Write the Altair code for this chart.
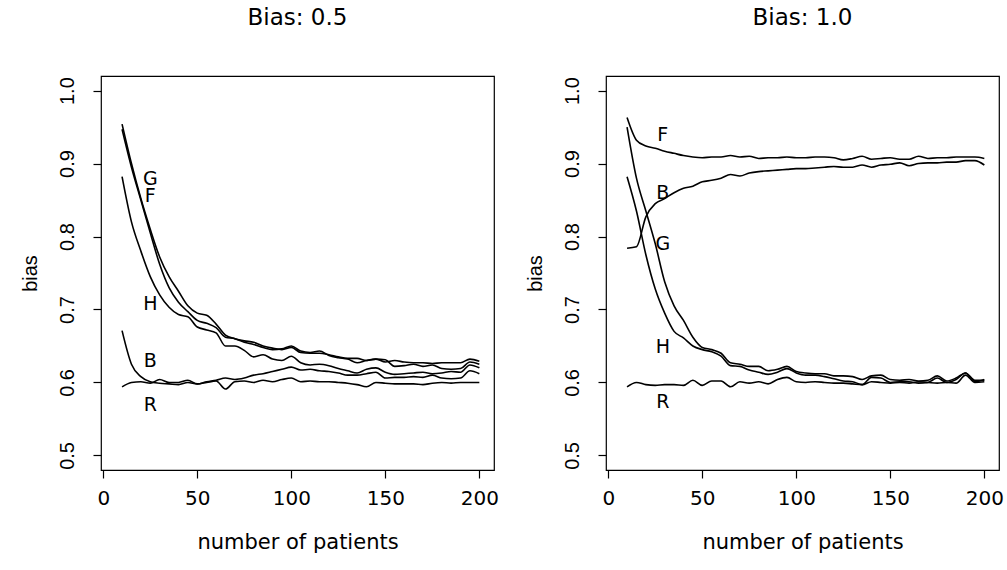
import altair as alt
import pandas as pd

FONT = "Liberation Sans"     # rotated texts
HFONT = "DejaVu Sans"        # horizontal texts (reference text is horizontally wide)

x_vals = [10, 15, 20, 25, 30, 35, 40, 45, 50, 55, 60, 65, 70, 75, 80, 85, 90, 95, 100,
          105, 110, 115, 120, 125, 130, 135, 140, 145, 150, 155, 160, 165, 170, 175, 180,
          185, 190, 195, 200]

# ---- Bias: 0.5 ----
left_G = [0.954, 0.900, 0.852, 0.810, 0.772, 0.745, 0.725, 0.705, 0.695, 0.692, 0.680, 0.665,
          0.660, 0.657, 0.655, 0.650, 0.647, 0.645, 0.648, 0.641, 0.640, 0.640, 0.638, 0.635,
          0.633, 0.633, 0.630, 0.632, 0.628, 0.630, 0.628, 0.627, 0.627, 0.626, 0.627, 0.627,
          0.627, 0.632, 0.629]
left_F = [0.947, 0.895, 0.850, 0.805, 0.762, 0.730, 0.710, 0.697, 0.685, 0.681, 0.675, 0.662,
          0.660, 0.655, 0.652, 0.648, 0.645, 0.646, 0.650, 0.643, 0.641, 0.643, 0.637, 0.634,
          0.632, 0.627, 0.630, 0.632, 0.631, 0.622, 0.623, 0.625, 0.622, 0.624, 0.619, 0.618,
          0.619, 0.628, 0.625]
left_H = [0.882, 0.820, 0.780, 0.745, 0.720, 0.703, 0.693, 0.690, 0.676, 0.672, 0.668, 0.650,
          0.650, 0.644, 0.635, 0.638, 0.632, 0.630, 0.636, 0.627, 0.624, 0.625, 0.623, 0.619,
          0.616, 0.613, 0.618, 0.620, 0.614, 0.611, 0.612, 0.613, 0.614, 0.612, 0.613, 0.615,
          0.614, 0.624, 0.620]
left_B = [0.671, 0.625, 0.608, 0.601, 0.599, 0.598, 0.597, 0.600, 0.598, 0.601, 0.603, 0.606,
          0.604, 0.606, 0.610, 0.612, 0.615, 0.618, 0.621, 0.617, 0.618, 0.616, 0.615, 0.613,
          0.610, 0.610, 0.612, 0.614, 0.606, 0.607, 0.607, 0.608, 0.607, 0.610, 0.606, 0.605,
          0.606, 0.616, 0.612]
left_R = [0.594, 0.600, 0.601, 0.599, 0.604, 0.600, 0.600, 0.603, 0.598, 0.600, 0.602, 0.591,
          0.601, 0.602, 0.600, 0.603, 0.601, 0.604, 0.606, 0.601, 0.602, 0.601, 0.601, 0.600,
          0.599, 0.597, 0.594, 0.600, 0.599, 0.598, 0.598, 0.598, 0.597, 0.599, 0.600, 0.599,
          0.600, 0.600, 0.600]

left_labels = ["G", "F", "H", "B", "R"]
left_label_x = [25, 25, 25, 25, 25]
left_label_y = [0.879, 0.855, 0.707, 0.629, 0.569]

# ---- Bias: 1.0 ----
right_F = [0.963, 0.932, 0.924, 0.921, 0.917, 0.914, 0.911, 0.909, 0.908, 0.909, 0.909, 0.911,
           0.909, 0.910, 0.907, 0.908, 0.908, 0.909, 0.908, 0.908, 0.909, 0.909, 0.908, 0.905,
           0.907, 0.910, 0.906, 0.907, 0.908, 0.906, 0.906, 0.910, 0.907, 0.908, 0.908, 0.909,
           0.909, 0.909, 0.907]
right_B = [0.784, 0.786, 0.827, 0.845, 0.852, 0.860, 0.866, 0.869, 0.875, 0.877, 0.880, 0.885,
           0.883, 0.887, 0.889, 0.890, 0.891, 0.892, 0.893, 0.893, 0.894, 0.895, 0.896, 0.895,
           0.895, 0.898, 0.895, 0.898, 0.899, 0.901, 0.897, 0.900, 0.901, 0.901, 0.902, 0.902,
           0.904, 0.904, 0.898]
right_G = [0.950, 0.880, 0.835, 0.790, 0.738, 0.705, 0.685, 0.662, 0.648, 0.645, 0.640, 0.627,
           0.625, 0.622, 0.622, 0.616, 0.618, 0.622, 0.615, 0.613, 0.612, 0.612, 0.609, 0.609,
           0.608, 0.604, 0.609, 0.610, 0.604, 0.603, 0.604, 0.602, 0.603, 0.609, 0.602, 0.606,
           0.613, 0.603, 0.603]
right_H = [0.882, 0.835, 0.775, 0.728, 0.695, 0.670, 0.661, 0.650, 0.645, 0.642, 0.636, 0.623,
           0.622, 0.617, 0.614, 0.611, 0.614, 0.619, 0.613, 0.610, 0.610, 0.608, 0.605, 0.602,
           0.601, 0.597, 0.607, 0.606, 0.600, 0.601, 0.601, 0.599, 0.600, 0.606, 0.600, 0.604,
           0.613, 0.601, 0.604]
right_R = [0.594, 0.600, 0.597, 0.596, 0.597, 0.597, 0.596, 0.603, 0.596, 0.602, 0.602, 0.594,
           0.601, 0.599, 0.601, 0.598, 0.604, 0.607, 0.601, 0.600, 0.601, 0.600, 0.599, 0.599,
           0.598, 0.597, 0.601, 0.600, 0.599, 0.600, 0.599, 0.601, 0.600, 0.599, 0.600, 0.599,
           0.610, 0.600, 0.601]

right_labels = ["F", "B", "G", "H", "R"]
right_label_x = [29, 29, 29, 29, 29]
right_label_y = [0.939, 0.860, 0.790, 0.649, 0.573]

x_ticks = [0, 50, 100, 150, 200]
y_ticks = [0.5, 0.6, 0.7, 0.8, 0.9, 1.0]

PW, PH = 393, 394


def panel(series, lab_names, lab_x, lab_y, title):
    rows = []
    for name, vals in series.items():
        for xv, yv in zip(x_vals, vals):
            rows.append({"x": xv, "y": yv, "series": name})
    df = pd.DataFrame(rows)
    ldf = pd.DataFrame({"x": lab_x, "y": lab_y, "label": lab_names})

    xs = alt.Scale(domain=[-1.2, 207.8], nice=False, zero=False)
    ys = alt.Scale(domain=[0.48, 1.02], nice=False, zero=False)

    x_axis = alt.Axis(values=x_ticks, title="number of patients", labelBaseline="alphabetic",
                      labelPadding=26, titleX=PW / 2, titleY=78, titleAlign="center",
                      titleBaseline="alphabetic", labelAngle=0,
                      labelFont=HFONT, labelFontSize=20, titleFont=HFONT, titleFontSize=21)
    y_axis = alt.Axis(values=y_ticks, format=".1f", title="bias", labelAngle=270,
                      labelAlign="center", labelBaseline="alphabetic", labelPadding=20,
                      titleAngle=270, titleX=-64.7, titleY=PH / 2, titleAlign="center",
                      titleBaseline="alphabetic",
                      labelFont=FONT, labelFontSize=20, titleFont=FONT, titleFontSize=20)

    lines = alt.Chart(df).mark_line(color="black", strokeWidth=1.6, clip=True,
                                    interpolate="monotone").encode(
        x=alt.X("x:Q", scale=xs, axis=x_axis),
        y=alt.Y("y:Q", scale=ys, axis=y_axis),
        detail="series:N",
    )
    labels = alt.Chart(ldf).mark_text(font=HFONT, fontSize=19, color="black",
                                      align="center", baseline="middle").encode(
        x=alt.X("x:Q", scale=xs),
        y=alt.Y("y:Q", scale=ys),
        text="label:N",
    )
    return alt.layer(lines, labels).properties(
        width=PW, height=PH,
        title=alt.TitleParams(title, font=HFONT, fontSize=23, fontWeight="normal",
                              color="black", anchor="middle", baseline="alphabetic",
                              offset=28),
    )


left = panel({"G": left_G, "F": left_F, "H": left_H, "B": left_B, "R": left_R},
             left_labels, left_label_x, left_label_y, "Bias: 0.5")
right = panel({"F": right_F, "B": right_B, "G": right_G, "H": right_H, "R": right_R},
              right_labels, right_label_x, right_label_y, "Bias: 1.0")

chart = alt.hconcat(left, right, spacing=24).properties(
    padding={"left": 19, "top": 6, "right": 0, "bottom": 0},
    background="white",
).configure_view(
    stroke="black", strokeWidth=1.2, fill="white"
).configure_axis(
    grid=False, domain=False, ticks=True, tickColor="black", tickWidth=1.2, tickSize=8,
    labelColor="black", titleFontWeight="normal", titleColor="black",
)

chart.save("out.html", embed_options={"renderer": "svg", "actions": False})
